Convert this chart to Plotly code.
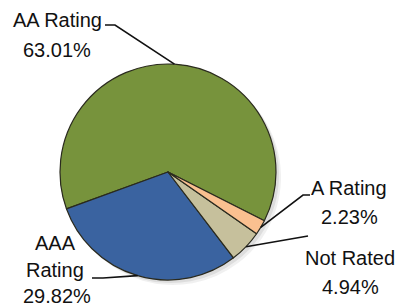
import math
import plotly.graph_objects as go

# ---- data ----
categories = ["AA Rating", "AAA Rating", "Not Rated", "A Rating"]
values = [63.01, 29.82, 4.94, 2.23]
label_lines = [["AA Rating", "63.01%"], ["AAA", "Rating", "29.82%"],
               ["Not Rated", "4.94%"], ["A Rating", "2.23%"]]
colors = ["#77933C", "#3A63A0", "#C6C09C", "#FAC090"]

W, H = 397, 307
CX, CY, R = 168, 172, 108
ROTATION = 250  # plotly: first slice (counterclockwise) ends at this clockwise angle from 12 o'clock


def dom(cx, cy, r):
    return dict(x=[(cx - r) / W, (cx + r) / W], y=[(H - cy - r) / H, (H - cy + r) / H])


fig = go.Figure()
# soft drop shadow behind the pie
for off, alpha in [(5, 0.06), (3, 0.08)]:
    fig.add_trace(go.Pie(
        labels=categories, values=values, sort=False, direction="counterclockwise",
        rotation=ROTATION, textinfo="none", hoverinfo="skip",
        marker=dict(colors=[f"rgba(0,0,0,{alpha})"] * len(values), line=dict(width=0)),
        domain=dom(CX + off, CY + off, R), showlegend=False,
    ))
fig.add_trace(go.Pie(
    labels=categories, values=values, sort=False, direction="counterclockwise",
    rotation=ROTATION, textinfo="none", hoverinfo="label+percent",
    marker=dict(colors=colors, line=dict(color="#2a2a1e", width=1.2)),
    domain=dom(CX, CY, R), showlegend=False,
))

def px(x):
    return x / W

def py(y):
    return 1 - y / H

# label placement (pixels): (x, y) for each text line, and leader path start points
label_pos = {
    "AA Rating": [(57, 20), (57, 50)],
    "AAA Rating": [(55, 243), (55, 270), (57, 296)],
    "Not Rated": [(350, 258), (350, 287)],
    "A Rating": [(349, 188), (349, 217)],
}
leader_start = {
    "AA Rating": [(105, 25), (115, 25)],
    "AAA Rating": [(92, 278), (103, 278)],
    "Not Rated": [(308, 236)],
    "A Rating": [(310, 195), (303, 195)],
}

annotations = []
shapes = []
total = sum(values)
start_math = 90 - ROTATION - 360 * values[0] / total
cum = 0.0
for cat, v, lines in zip(categories, values, label_lines):
    mid = math.radians(start_math + (cum + v / 2) / total * 360)
    cum += v
    ex, ey = CX + R * math.cos(mid), CY - R * math.sin(mid)
    for (tx, ty), t in zip(label_pos[cat], lines):
        annotations.append(dict(x=px(tx), y=py(ty), xref="paper", yref="paper", text=t,
                                showarrow=False, xanchor="center", yanchor="middle",
                                font=dict(family="Liberation Sans", size=20, color="#111111")))
    pts = leader_start[cat] + [(ex, ey)]
    path = "M " + " L ".join(f"{px(x)},{py(y)}" for x, y in pts)
    shapes.append(dict(type="path", xref="paper", yref="paper", path=path,
                       line=dict(color="#111111", width=1.6)))

fig.update_layout(
    width=W, height=H, margin=dict(l=0, r=0, t=0, b=0),
    paper_bgcolor="white", plot_bgcolor="white",
    annotations=annotations, shapes=shapes,
)
fig.write_html("out.html", config={"displayModeBar": False},
               post_script="document.body.style.margin='0';document.body.style.overflow='hidden';")
